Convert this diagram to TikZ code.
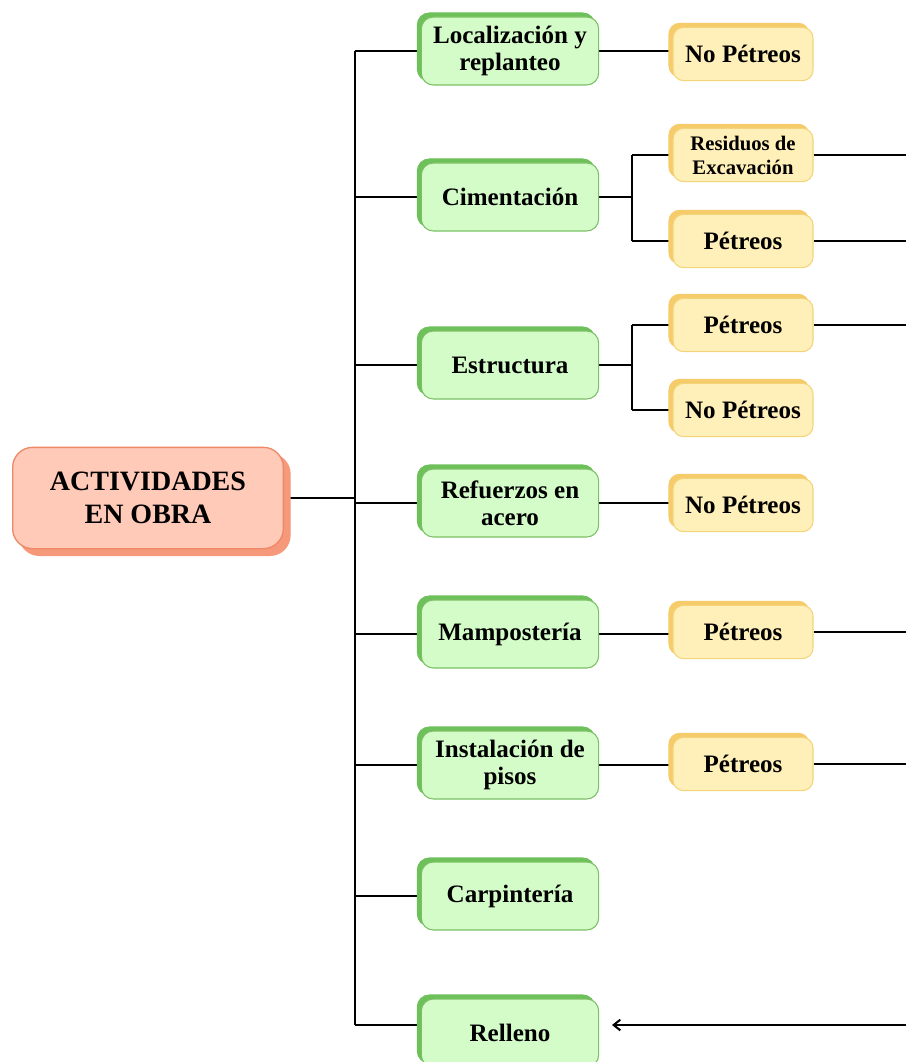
\documentclass[tikz,border=0pt]{standalone}
\usepackage{fontspec}
\setmainfont{Liberation Serif}
\usetikzlibrary{shadows,backgrounds,arrows.meta}

\definecolor{actfill}{HTML}{FFCAB8}
\definecolor{actline}{HTML}{EE8866}
\definecolor{actback}{HTML}{F5997A}
\definecolor{actfront}{HTML}{D4FCC9}
\definecolor{actdraw}{HTML}{7BC064}
\definecolor{actcopy}{HTML}{6DC05A}
\definecolor{matfill}{HTML}{FFEFB8}
\definecolor{matdraw}{HTML}{F4D47A}
\definecolor{matcopy}{HTML}{F6CB6A}

\begin{document}
\begin{tikzpicture}[x=0.75pt,y=-0.75pt]
            \useasboundingbox (0,0) rectangle (906,1062);
            % main activity
            \node[rounded corners=15pt,fill=actfill,draw=actline,line width=1pt,
                  minimum width=203pt,minimum height=76pt,align=center,
                  font=\fontsize{21}{25}\selectfont\bfseries,
                  copy shadow={shadow xshift=5pt,shadow yshift=-5pt,fill=actback,draw=actback}]
                (act) at (148,498) {ACTIVIDADES\\EN OBRA};
            % activities
            \begin{scope}[every node/.style={rounded corners=9pt,fill=actfront,draw=actdraw,line width=0.8pt,
                    minimum width=133pt,minimum height=51pt,align=center,
                    font=\fontsize{18.8}{20.5}\selectfont\bfseries,
                    copy shadow={shadow xshift=-3pt,shadow yshift=3pt,fill=actcopy,draw=actcopy}}]
                \node (loc) at (510,51) {Localización y\\replanteo};
                \node (cim) at (510,197) {Cimentación};
                \node (est) at (510,365) {Estructura};
                \node (ref) at (510,503) {Refuerzos en\\acero};
                \node (mam) at (510,634) {Mampostería};
                \node (ins) at (510,765) {Instalación de\\pisos};
                \node (car) at (510,896) {Carpintería};
                \node (rel) at (510,1033) {Relleno};
            \end{scope}
            % materials
            \begin{scope}[every node/.style={rounded corners=8pt,fill=matfill,draw=matdraw,line width=0.8pt,
                    minimum width=105pt,minimum height=40pt,align=center,
                    font=\fontsize{18.8}{20.5}\selectfont\bfseries,
                    copy shadow={shadow xshift=-3pt,shadow yshift=3pt,fill=matcopy,draw=matcopy}}]
                \node (loc1) at (743,54) {No Pétreos};
                \node[font=\fontsize{15.5}{18}\selectfont\bfseries] (cim1) at (743,155) {Residuos de\\Excavación};
                \node (cim2) at (743,241) {Pétreos};
                \node (est1) at (743,325) {Pétreos};
                \node (est2) at (743,410) {No Pétreos};
                \node (ref1) at (743,505) {No Pétreos};
                \node (mam1) at (743,632) {Pétreos};
                \node (ins1) at (743,764) {Pétreos};
            \end{scope}
            \coordinate (top) at (355,51);
            \coordinate (bot) at (355,1025);
            \coordinate (cimfork) at (632,197);
            \coordinate (estfork) at (632,365);
            \begin{scope}[on background layer]
            \begin{scope}[line width=1.5pt]
                \draw (act.east) -- (act.east -| top);
                \draw (top) -- (bot);
                \foreach \n in {loc,cim,est,ref,mam,ins,car} {
                    \draw (top |- \n.west) -- (\n.west);
                }
                \draw (bot) -- (bot -| rel.west);
                \draw (loc.east) -- (loc.east -| loc1.west);
                \draw (cim.east) -- (cimfork);
                \draw (cimfork |- cim1.west) -- (cimfork |- cim2.west);
                \draw (cimfork |- cim1.west) -- (cim1.west);
                \draw (cimfork |- cim2.west) -- (cim2.west);
                \draw (est.east) -- (estfork);
                \draw (estfork |- est1.west) -- (estfork |- est2.west);
                \draw (estfork |- est1.west) -- (est1.west);
                \draw (estfork |- est2.west) -- (est2.west);
                \draw (ref.east) -- (ref.east -| ref1.west);
                \draw (mam.east) -- (mam.east -| mam1.west);
                \draw (ins.east) -- (ins.east -| ins1.west);
                % lines leaving the picture
                \foreach \n in {cim1,cim2,est1,mam1,ins1} {
                    \draw (\n.east) -- (906,0 |- \n.east);
                }
                \draw[-{Straight Barb[length=5pt,width=8pt]}] (906,1025) -- (612,1025);
            \end{scope}
            \end{scope}
        \end{tikzpicture}
\end{document}
